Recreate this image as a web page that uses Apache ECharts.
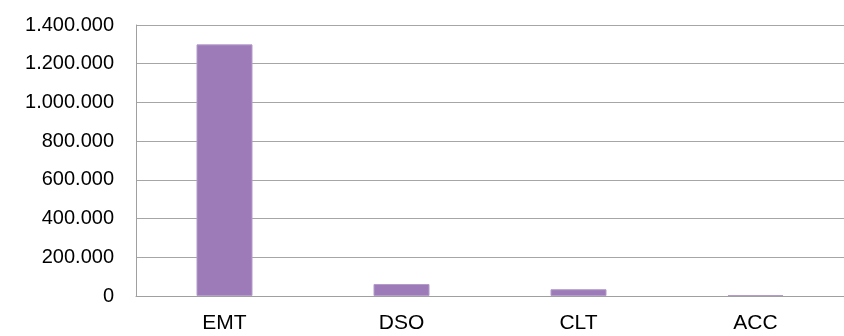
<!DOCTYPE html>
<html>
<head>
<meta charset="utf-8">
<script src="https://cdn.jsdelivr.net/npm/echarts@6/dist/echarts.min.js"></script>
<style>
  html, body { margin: 0; padding: 0; background: #fff; }
  #chart { width: 844px; height: 336px; }
</style>
</head>
<body>
<div id="chart"></div>
<script>
//--------------------------------
// Data
//--------------------------------
const categories = ['EMT', 'DSO', 'CLT', 'ACC'];
const values = [1300000, 62000, 35000, 5000];
const yTicks = [0, 200000, 400000, 600000, 800000, 1000000, 1200000, 1400000];

// 1400000 -> 1.400.000
const fmt = (v) => String(v).replace(/\B(?=(\d{3})+(?!\d))/g, '.');

var myChart = echarts.init(document.getElementById('chart'));

let options = {
    animation: false,
    grid: {
        left: 136,
        width: 717,
        top: 25,
        bottom: 40
    },
    xAxis: {
        type: 'category',
        data: categories,
        axisLine: { show: true, lineStyle: { color: '#a0a0a0', width: 1 } },
        axisTick: { show: false },
        axisLabel: {
            color: '#000',
            fontFamily: 'Liberation Sans, Arial, sans-serif',
            fontSize: 21,
            margin: 17
        }
    },
    yAxis: {
        type: 'value',
        min: yTicks[0],
        max: yTicks[yTicks.length - 1],
        interval: 200000,
        axisLine: { show: true, lineStyle: { color: '#a0a0a0', width: 1 } },
        axisTick: { show: false },
        splitLine: { show: true, lineStyle: { color: '#a6a6a6', width: 1 } },
        axisLabel: {
            color: '#000',
            fontFamily: 'Liberation Sans, Arial, sans-serif',
            fontSize: 20,
            margin: 22,
            formatter: fmt
        }
    },
    series: [
        {
            type: 'bar',
            data: values,
            barWidth: 56,
            itemStyle: {
                color: '#9d7bb8',
                borderColor: '#b49ccb',
                borderWidth: 1
            }
        }
    ]
};

myChart.setOption(options);
</script>
</body>
</html>
